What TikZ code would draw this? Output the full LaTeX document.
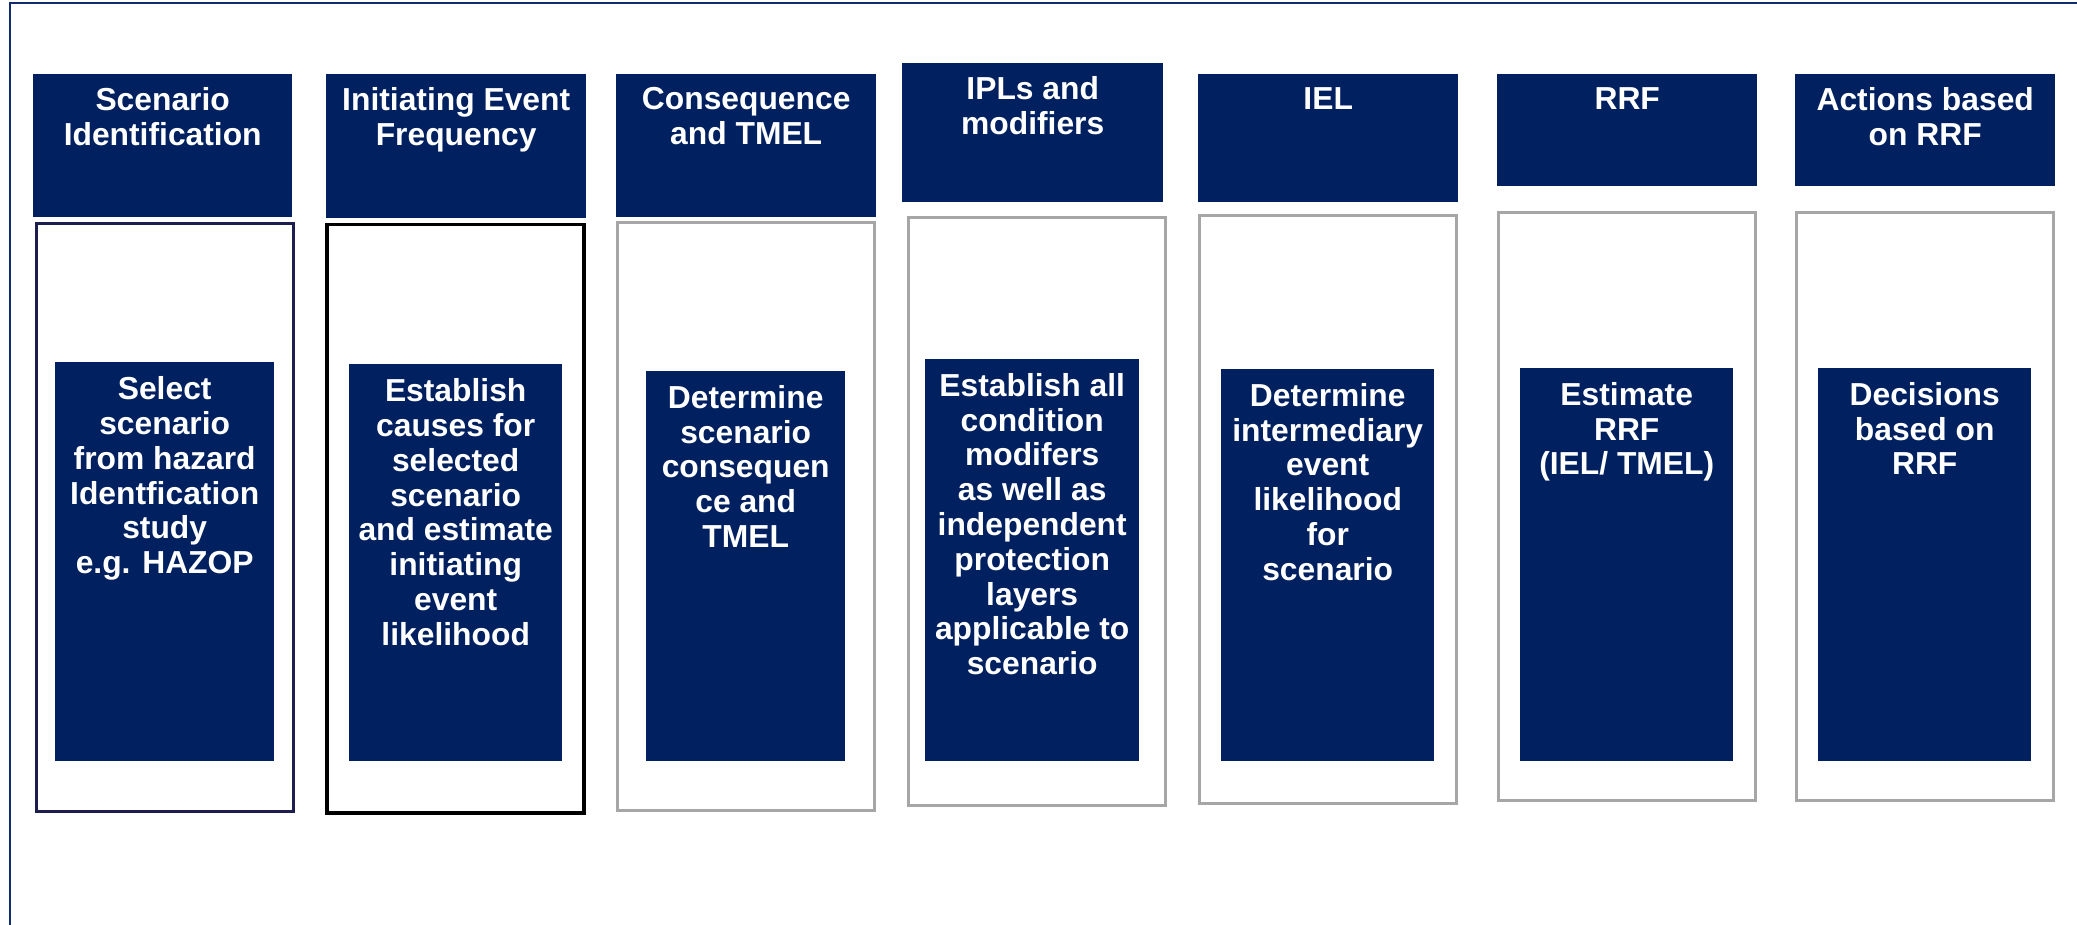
\documentclass[tikz,border=0pt]{standalone}
\usepackage{fontspec}
\setmainfont{Liberation Sans}
\usetikzlibrary{positioning}
\definecolor{navy}{RGB}{0,32,96}
\definecolor{inkblue}{RGB}{30,30,78}
\definecolor{boxgray}{RGB}{166,166,166}
\definecolor{rulecol}{RGB}{16,44,110}
\tikzset{head/.style={fill=navy, draw=none, anchor=north west, inner sep=0pt, minimum width=260pt}}
\tikzset{task/.style={fill=navy, draw=none, anchor=north west, inner sep=0pt, minimum width=213pt}}
\tikzset{stage/.style={draw=boxgray, line width=3pt, anchor=north west, inner sep=0pt, minimum width=257pt, minimum height=588pt}}
\tikzset{txt/.style={text=white, inner sep=0pt, align=center, font=\fontsize{31.8}{34.8}\selectfont\bfseries}}
\tikzset{rule/.style={draw=rulecol, line width=2pt}}

\begin{document}
\begin{tikzpicture}[x=1pt, y=-1pt]
	\useasboundingbox (0,0) rectangle (2077,925);
	\draw[rule] (10,925) -- (10,3.5) -- (2077,3.5);
	%
	\node[stage, draw=inkblue] (s1) at (35,222) {};
	\node[stage, draw=black, line width=3.5pt] (s2) at (325,223) {};
	\node[stage] (s3) at (616,221) {};
	\node[stage] (s4) at (907,216) {};
	\node[stage] (s5) at (1198,214) {};
	\node[stage] (s6) at (1497,211) {};
	\node[stage] (s7) at (1795,211) {};
	%
	\node[head, minimum width=259pt, minimum height=143pt] (h1) at (33,74) {};
	\node[head, minimum height=144pt] (h2) at (326,74) {};
	\node[head, minimum height=143pt] (h3) at (616,74) {};
	\node[head, minimum width=261pt, minimum height=139pt] (h4) at (902,63) {};
	\node[head, minimum height=128pt] (h5) at (1198,74) {};
	\node[head, minimum height=112pt] (h6) at (1497,74) {};
	\node[head, minimum height=112pt] (h7) at (1795,74) {};
	%
	\node[task, minimum width=219pt, minimum height=399pt] (t1) at (55,362) {};
	\node[task, minimum height=397pt] (t2) at (349,364) {};
	\node[task, minimum width=199pt, minimum height=390pt] (t3) at (646,371) {};
	\node[task, minimum width=214pt, minimum height=402pt] (t4) at (925,359) {};
	\node[task, minimum height=392pt] (t5) at (1221,369) {};
	\node[task, minimum height=393pt] (t6) at (1520,368) {};
	\node[task, minimum height=393pt] (t7) at (1818,368) {};
	%
	\node[txt, below=13pt of h1.north] (ht1) {Scenario\\Identification};
	\node[txt, below=13pt of h2.north] (ht2) {Initiating Event\\Frequency};
	\node[txt, below=13pt of h3.north] (ht3) {Consequence\\and TMEL};
	\node[txt, below=13.5pt of h4.north] (ht4) {IPLs and\\modifiers};
	\node[txt, below=13pt of h5.north] (ht5) {IEL};
	\node[txt, below=13pt of h6.north] (ht6) {RRF};
	\node[txt, below=13pt of h7.north] (ht7) {Actions based\\on RRF};
	%
	\node[txt, below=14.5pt of t1.north] (tt1) {Select\\scenario\\from hazard\\Identfication\\study\\e.g. HAZOP};
	\node[txt, below=14.5pt of t2.north] (tt2) {Establish\\causes for\\selected\\scenario\\and estimate\\initiating\\event\\likelihood};
	\node[txt, below=14pt of t3.north] (tt3) {Determine\\scenario\\consequen\\ce and\\TMEL};
	\node[txt, below=14pt of t4.north] (tt4) {Establish all\\condition\\modifers\\as well as\\independent\\protection\\layers\\applicable to\\scenario};
	\node[txt, below=14pt of t5.north] (tt5) {Determine\\intermediary\\event\\likelihood\\for\\scenario};
	\node[txt, below=14pt of t6.north] (tt6) {Estimate\\RRF\\(IEL/ TMEL)};
	\node[txt, below=14pt of t7.north] (tt7) {Decisions\\based on\\RRF};
\end{tikzpicture}
\end{document}
